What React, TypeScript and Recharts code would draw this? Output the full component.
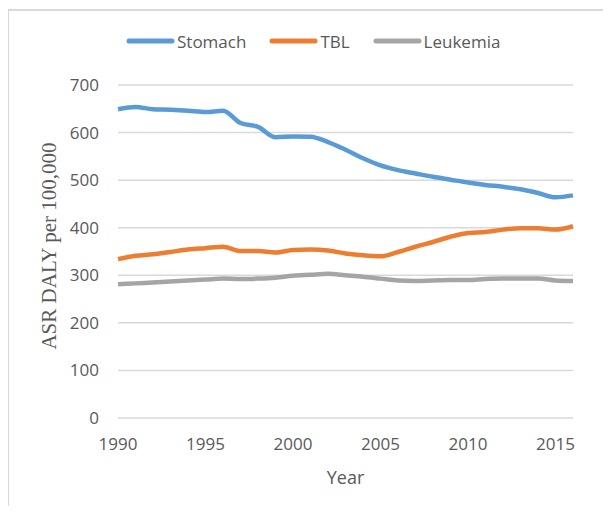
import React from "react";
import {
  LineChart,
  Line,
  XAxis,
  YAxis,
  CartesianGrid,
  Legend,
  Label,
} from "recharts";

const years = [
  1990, 1991, 1992, 1993, 1994, 1995, 1996, 1997, 1998, 1999, 2000, 2001, 2002,
  2003, 2004, 2005, 2006, 2007, 2008, 2009, 2010, 2011, 2012, 2013, 2014, 2015,
  2016,
];

const stomach = [
  649, 654, 649, 648, 646, 643, 646, 620, 612, 590, 592, 591, 580, 564, 546,
  531, 521, 514, 507, 501, 495, 490, 486, 481, 473, 464, 468,
];

const tbl = [
  334, 341, 344, 349, 354, 357, 360, 351, 351, 348, 353, 354, 352, 346, 342,
  340, 349, 360, 370, 381, 389, 391, 396, 399, 399, 396, 403,
];

const leukemia = [
  281, 283, 285, 287, 289, 291, 293, 292, 293, 295, 299, 301, 303, 300, 297,
  293, 289, 288, 289, 290, 290, 292, 293, 293, 293, 289, 288,
];

const xTicks = [1990, 1995, 2000, 2005, 2010, 2015];
const yTicks = [0, 100, 200, 300, 400, 500, 600, 700];

const SERIES = [
  { key: "Stomach", color: "#5B9BD5" },
  { key: "TBL", color: "#ED7D31" },
  { key: "Leukemia", color: "#A5A5A5" },
];

const FONT = "'Open Sans', 'Liberation Sans', sans-serif";
const TEXT_COLOR = "#595959";

const data = years.map((year, i) => ({
  year,
  Stomach: stomach[i],
  TBL: tbl[i],
  Leukemia: leukemia[i],
}));

function LegendContent() {
  return (
    <div style={{ display: "flex", alignItems: "center", height: 24 }}>
      {SERIES.map((s, i) => (
        <div
          key={s.key}
          style={{
            display: "flex",
            alignItems: "center",
            marginRight: i < SERIES.length - 1 ? 23 : 0,
          }}
        >
          <svg width={49} height={8} style={{ marginRight: 2 }}>
            <line
              x1={3}
              y1={4}
              x2={46}
              y2={4}
              stroke={s.color}
              strokeWidth={5}
              strokeLinecap="round"
            />
          </svg>
          <span style={{ fontFamily: FONT, fontSize: 17, color: TEXT_COLOR }}>
            {s.key}
          </span>
        </div>
      ))}
    </div>
  );
}

export default function App() {
  return (
    <div
      style={{
        position: "relative",
        width: 611,
        height: 514,
        margin: -8,
        background: "#fff",
        overflow: "hidden",
      }}
    >
      <div
        style={{
          position: "absolute",
          left: 7,
          top: 9,
          width: 700,
          height: 600,
          borderTop: "2px solid #d9d9d9",
          borderLeft: "2px solid #d9d9d9",
        }}
      />
      <div style={{ position: "absolute", left: 0, top: 0 }}>
        <LineChart
          width={611}
          height={514}
          data={data}
          margin={{ top: 85, right: 38, bottom: 46, left: 0 }}
        >
          <CartesianGrid vertical={false} stroke="#d9d9d9" strokeWidth={1.5} />
          <XAxis
            dataKey="year"
            type="number"
            domain={[1990, 2016]}
            ticks={xTicks}
            axisLine={false}
            tickLine={false}
            height={50}
            tickMargin={14}
            tick={{ fontSize: 17, fill: TEXT_COLOR, fontFamily: FONT }}
          >
            <Label
              content={({ viewBox }: any) => (
                <text
                  x={viewBox.x + viewBox.width / 2}
                  y={484}
                  textAnchor="middle"
                  fontSize={18}
                  fill={TEXT_COLOR}
                  fontFamily={FONT}
                >
                  Year
                </text>
              )}
            />
          </XAxis>
          <YAxis
            domain={[0, 700]}
            ticks={yTicks}
            axisLine={false}
            tickLine={false}
            width={118}
            tickMargin={13}
            tick={{ fontSize: 17, fill: TEXT_COLOR, fontFamily: FONT }}
          >
            <Label
              content={() => (
                <text
                  x={56}
                  y={246}
                  transform="rotate(-90 56 246)"
                  textAnchor="middle"
                  fontSize={21}
                  fill={TEXT_COLOR}
                  fontFamily="'Liberation Serif', 'Times New Roman', serif"
                >
                  ASR DALY per 100,000
                </text>
              )}
            />
          </YAxis>
          <Legend
            verticalAlign="middle"
            align="center"
            layout="horizontal"
            wrapperStyle={{ top: 29, left: 126, width: 420 }}
            content={() => <LegendContent />}
          />
          {SERIES.map((s) => (
            <Line
              key={s.key}
              type="monotone"
              dataKey={s.key}
              stroke={s.color}
              strokeWidth={4.5}
              dot={false}
              activeDot={false}
              isAnimationActive={false}
            />
          ))}
        </LineChart>
      </div>
    </div>
  );
}
